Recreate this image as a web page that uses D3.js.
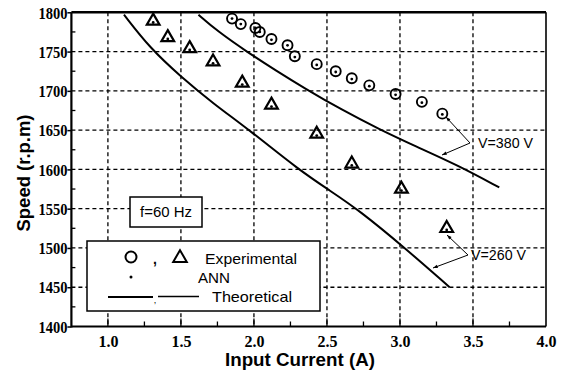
<!DOCTYPE html>
<html><head><meta charset="utf-8">
<script src="https://cdn.jsdelivr.net/npm/d3@7"></script>
<style>
html,body{margin:0;padding:0;background:#fff;}
svg{display:block;}
</style></head>
<body>
<script>
// ---- data ----
const xTicks = [1.0, 1.5, 2.0, 2.5, 3.0, 3.5, 4.0];
const yTicks = [1400, 1450, 1500, 1550, 1600, 1650, 1700, 1750, 1800];

// Experimental, V=380 V (circles)
const exp380X = [1.85, 1.91, 2.01, 2.04, 2.12, 2.23, 2.28, 2.43, 2.56, 2.67, 2.79, 2.97, 3.15, 3.29];
const exp380Y = [1792, 1785, 1780, 1775, 1766, 1758, 1744, 1734, 1725, 1716, 1707, 1696, 1686, 1671];
// Experimental, V=260 V (triangles)
const exp260X = [1.31, 1.41, 1.56, 1.72, 1.92, 2.12, 2.43, 2.67, 3.01, 3.32];
const exp260Y = [1789, 1768, 1754, 1737, 1710, 1682, 1645, 1607, 1575, 1525];
// ANN predictions (dots)
const ann380Y = [1792, 1785, 1780, 1775, 1765, 1758, 1743, 1733, 1724, 1715, 1706, 1695, 1685, 1670];
const ann260Y = [1787, 1766, 1752, 1735, 1708, 1680, 1643, 1605, 1573, 1523];
// Theoretical curves
const th380X = [1.62, 1.75, 1.95, 2.15, 2.35, 2.60, 2.86, 3.10, 3.40, 3.68];
const th380Y = [1797, 1776, 1750, 1726, 1703, 1676, 1651, 1630, 1605, 1577];
const th260X = [1.11, 1.29, 1.50, 1.72, 1.97, 2.31, 2.52, 2.72, 3.04, 3.34];
const th260Y = [1797, 1754, 1718, 1684, 1650, 1599, 1573, 1548, 1499, 1450];

const W = 564, H = 377;
const svg = d3.select("body").append("svg").attr("width", W).attr("height", H);

const x = d3.scaleLinear().domain([0.75, 4.0]).range([71.4, 546]);
const y = d3.scaleLinear().domain([1400, 1800]).range([326.5, 12.3]);

const serif = "'Liberation Serif','Times New Roman',serif";
const sans = "'Liberation Sans',Arial,sans-serif";

// grid
const grid = svg.append("g").attr("stroke", "#000").attr("stroke-width", 1.3).attr("stroke-dasharray", "4,3");
xTicks.filter(t => t > 0.75 && t < 4.0).forEach(t => {
  grid.append("line").attr("x1", x(t)).attr("x2", x(t)).attr("y1", y(1800)).attr("y2", y(1400));
});
yTicks.filter(t => t > 1400 && t < 1800).forEach(t => {
  grid.append("line").attr("x1", x(0.75)).attr("x2", x(4.0)).attr("y1", y(t)).attr("y2", y(t));
});

// minor ticks
const minorX = d3.range(1.0, 4.0, 0.25);
minorX.forEach(t => {
  const major = Math.abs(t * 2 - Math.round(t * 2)) < 1e-6;
  svg.append("line").attr("x1", x(t)).attr("x2", x(t)).attr("y1", y(1400)).attr("y2", y(1400) - (major ? 8 : 5))
    .attr("stroke", "#000").attr("stroke-width", 1.3);
});
d3.range(1425, 1800, 50).forEach(t => {
  svg.append("line").attr("x1", x(0.75)).attr("x2", x(0.75) + 4).attr("y1", y(t)).attr("y2", y(t))
    .attr("stroke", "#000").attr("stroke-width", 1.3);
});

// axes via d3
const gy = svg.append("g").attr("transform", `translate(${x(0.75)},0)`)
  .call(d3.axisLeft(y).tickValues(yTicks).tickFormat(d3.format("d")).tickSize(4).tickPadding(0));
gy.select(".domain").remove();
gy.selectAll("line").attr("stroke-width", 1.5);
gy.selectAll("text").attr("font-family", serif).attr("font-weight", "bold").attr("font-size", 16).attr("fill", "#000")
  .attr("dy", "0.36em").attr("textLength", 29).attr("lengthAdjust", "spacingAndGlyphs");

const gx = svg.append("g").attr("transform", `translate(0,${y(1400)})`)
  .call(d3.axisBottom(x).tickValues(xTicks).tickFormat(d3.format(".1f")).tickSize(0).tickPadding(9));
gx.select(".domain").remove();
gx.selectAll("text").attr("font-family", serif).attr("font-weight", "bold").attr("font-size", 16).attr("fill", "#000")
  .attr("textLength", 20).attr("lengthAdjust", "spacingAndGlyphs");

// frame
svg.append("line").attr("x1", x(0.75)).attr("x2", x(0.75)).attr("y1", y(1800)).attr("y2", y(1400) + 1).attr("stroke", "#000").attr("stroke-width", 2.2);
svg.append("line").attr("x1", x(0.75)).attr("x2", x(4.0)).attr("y1", y(1400)).attr("y2", y(1400)).attr("stroke", "#000").attr("stroke-width", 2.2);
svg.append("line").attr("x1", x(0.75)).attr("x2", x(4.0)).attr("y1", y(1800)).attr("y2", y(1800)).attr("stroke", "#000").attr("stroke-width", 2.5);
svg.append("line").attr("x1", x(4.0)).attr("x2", x(4.0)).attr("y1", y(1800)).attr("y2", y(1400)).attr("stroke", "#000").attr("stroke-width", 1.6);

// theoretical lines
const line = d3.line().x(d => x(d[0])).y(d => y(d[1])).curve(d3.curveBasis);
[[th380X, th380Y], [th260X, th260Y]].forEach(([xs, ys]) => {
  svg.append("path").datum(xs.map((v, i) => [v, ys[i]])).attr("d", line)
    .attr("fill", "none").attr("stroke", "#000").attr("stroke-width", 2);
});

// circles
svg.append("g").selectAll("circle").data(exp380X.map((v, i) => [v, exp380Y[i]])).join("circle")
  .attr("cx", d => x(d[0])).attr("cy", d => y(d[1])).attr("r", 5)
  .attr("fill", "none").attr("stroke", "#000").attr("stroke-width", 1.9);
// triangles
const tri = d3.symbol().type(d3.symbolTriangle).size(70);
svg.append("g").selectAll("path").data(exp260X.map((v, i) => [v, exp260Y[i]])).join("path")
  .attr("d", tri).attr("transform", d => `translate(${x(d[0])},${y(d[1])})`)
  .attr("fill", "none").attr("stroke", "#000").attr("stroke-width", 2.2);
// ANN dots
const annPts = exp380X.map((v, i) => [v, ann380Y[i]]).concat(exp260X.map((v, i) => [v, ann260Y[i]]));
svg.append("g").selectAll("circle").data(annPts).join("circle")
  .attr("cx", d => x(d[0])).attr("cy", d => y(d[1])).attr("r", 1.4).attr("fill", "#000");

// f=60 Hz box
svg.append("rect").attr("x", 130).attr("y", 197).attr("width", 72).attr("height", 30)
  .attr("fill", "#fff").attr("stroke", "#000").attr("stroke-width", 1.5);
svg.append("text").attr("x", 166).attr("y", 217).attr("text-anchor", "middle")
  .attr("font-family", sans).attr("font-size", 14).attr("textLength", 52).attr("lengthAdjust", "spacingAndGlyphs").text("f=60 Hz");

// legend
svg.append("rect").attr("x", 87).attr("y", 241).attr("width", 233).attr("height", 70)
  .attr("fill", "#fff").attr("stroke", "#000").attr("stroke-width", 1.5);
svg.append("circle").attr("cx", 131).attr("cy", 257).attr("r", 5.5).attr("fill", "none").attr("stroke", "#000").attr("stroke-width", 2);
svg.append("text").attr("x", 155).attr("y", 264).attr("text-anchor", "middle").attr("font-family", sans).attr("font-weight", "bold").attr("font-size", 14).text(",");
svg.append("path").attr("d", d3.symbol().type(d3.symbolTriangle).size(80)).attr("transform", "translate(180,258)")
  .attr("fill", "none").attr("stroke", "#000").attr("stroke-width", 2);
svg.append("circle").attr("cx", 131).attr("cy", 277).attr("r", 1.5).attr("fill", "#000");
svg.append("line").attr("x1", 108).attr("x2", 153).attr("y1", 297).attr("y2", 297).attr("stroke", "#000").attr("stroke-width", 1.8);
svg.append("line").attr("x1", 158).attr("x2", 199).attr("y1", 296.5).attr("y2", 296.5).attr("stroke", "#000").attr("stroke-width", 1.5);
svg.append("text").attr("x", 155).attr("y", 303).attr("text-anchor", "middle").attr("font-family", sans).attr("font-size", 9).text(",");
const legText = [["Experimental", 205, 263.5, 92], ["ANN", 198, 282.5, 32], ["Theoretical", 212, 302, 80]];
legText.forEach(([t, lx, ly, len]) => {
  svg.append("text").attr("x", lx).attr("y", ly).attr("font-family", sans).attr("font-size", 15)
    .attr("textLength", len).attr("lengthAdjust", "spacingAndGlyphs").text(t);
});

// annotations
function arrow(x1, y1, x2, y2) {
  svg.append("line").attr("x1", x1).attr("y1", y1).attr("x2", x2).attr("y2", y2).attr("stroke", "#000").attr("stroke-width", 1);
  const a = Math.atan2(y2 - y1, x2 - x1), L = 5, w = 0.35;
  svg.append("path").attr("d", `M${x2},${y2}L${x2 - L * Math.cos(a - w)},${y2 - L * Math.sin(a - w)}L${x2 - L * Math.cos(a + w)},${y2 - L * Math.sin(a + w)}Z`).attr("fill", "#000");
}
arrow(470, 143, 446, 117);
arrow(470, 143, 442, 155);
svg.append("text").attr("x", 478).attr("y", 148).attr("font-family", sans).attr("font-size", 14)
  .attr("textLength", 55).attr("lengthAdjust", "spacingAndGlyphs").text("V=380 V");
arrow(468, 255, 447, 235);
arrow(468, 255, 433, 268);
svg.append("text").attr("x", 471).attr("y", 260).attr("font-family", sans).attr("font-size", 14)
  .attr("textLength", 55).attr("lengthAdjust", "spacingAndGlyphs").text("V=260 V");

// axis titles
svg.append("text").attr("x", 300).attr("y", 366).attr("text-anchor", "middle").attr("font-family", sans).attr("font-weight", "bold")
  .attr("font-size", 19).attr("textLength", 150).attr("lengthAdjust", "spacingAndGlyphs").text("Input Current (A)");
svg.append("text").attr("transform", "translate(30,173) rotate(-90)").attr("text-anchor", "middle").attr("font-family", sans).attr("font-weight", "bold")
  .attr("font-size", 18).attr("textLength", 117).attr("lengthAdjust", "spacingAndGlyphs").text("Speed (r.p.m)");
</script>
</body></html>
